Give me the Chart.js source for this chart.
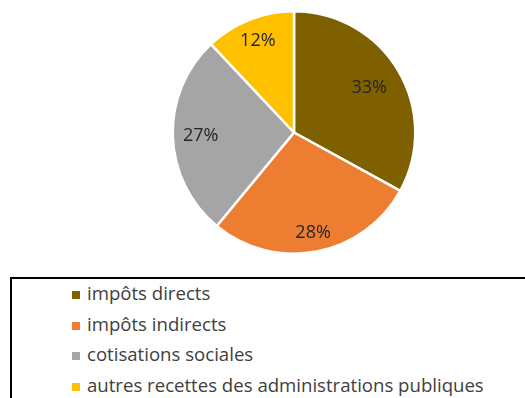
<!DOCTYPE html>
<html>
<head>
<meta charset="utf-8">
<script src="https://cdn.jsdelivr.net/npm/chart.js@4"></script>
<style>
    html, body {
        margin: 0;
        padding: 0;
        background: #ffffff;
    }
    #wrap {
        position: relative;
        width: 525px;
        height: 398px;
        overflow: hidden;
    }
    #chartBox {
        position: absolute;
        left: 0;
        top: 0;
        width: 525px;
        height: 265px;
    }
    #legendBox {
        position: absolute;
        left: 10px;
        top: 277px;
        width: 530px;
        height: 140px;
        border: 2px solid #000000;
        box-sizing: border-box;
    }
    #legendBox ul {
        list-style: none;
        margin: 0;
        padding: 0;
    }
    #legendBox li {
        position: absolute;
        left: 60px;
        height: 24px;
        line-height: 24px;
        font-family: 'Open Sans', sans-serif;
        font-size: 18.6px;
        color: #404040;
        white-space: nowrap;
    }
    #legendBox li span {
        position: absolute;
        left: 0;
        top: 8px;
        width: 8px;
        height: 8px;
    }
    #legendBox li em {
        font-style: normal;
        position: absolute;
        left: 15px;
        top: -2px;
    }
</style>
</head>
<body>
<div id="wrap">
    <div id="chartBox"><canvas id="pieChart"></canvas></div>
    <div id="legendBox"><ul id="legendList"></ul></div>
</div>
<script>
const categories = ['impôts directs', 'impôts indirects', 'cotisations sociales', 'autres recettes des administrations publiques']
const shares = [33, 28, 27, 12]
const sliceColors = ['#7F6000', '#ED7D31', '#A5A5A5', '#FFC000']

// Excel puts each label at its own distance from the centre
const labelRadius = [0.72, 0.84, 0.77, 0.81]

const pieLabels = {
    id: 'pieLabels',
    afterDatasetsDraw(chart) {
        const ctx = chart.ctx
        const meta = chart.getDatasetMeta(0)
        ctx.save()
        ctx.font = "18px 'Open Sans', sans-serif"
        ctx.fillStyle = '#262626'
        ctx.textAlign = 'center'
        ctx.textBaseline = 'middle'
        meta.data.forEach((arc, i) => {
            const p = arc.getProps(['x', 'y', 'startAngle', 'endAngle', 'outerRadius'], true)
            const mid = (p.startAngle + p.endAngle) / 2
            const r = p.outerRadius * labelRadius[i]
            ctx.fillText(shares[i] + '%', p.x + Math.cos(mid) * r, p.y + Math.sin(mid) * r)
        })
        ctx.restore()
    }
}

const pieCanvas = document.getElementById('pieChart')

const pieChart = new Chart(pieCanvas, {
    type: 'pie',
    data: {
        labels: categories,
        datasets: [{
            data: shares,
            backgroundColor: sliceColors,
            borderColor: '#ffffff',
            borderWidth: 2.5
        }]
    },
    options: {
        responsive: true,
        maintainAspectRatio: false,
        animation: false,
        layout: {
            padding: {left: 100, right: 37, top: 10, bottom: 10}
        },
        plugins: {
            legend: {display: false},
            tooltip: {enabled: false}
        }
    },
    plugins: [pieLabels]
})

// legend rows built from the chart's own legend items
const legendList = document.getElementById('legendList')
pieChart.options.plugins.legend.labels.generateLabels(pieChart).forEach((item, i) => {
    const li = document.createElement('li')
    li.style.top = (4 + i * 30.5) + 'px'
    const box = document.createElement('span')
    box.style.background = item.fillStyle
    const txt = document.createElement('em')
    txt.textContent = item.text
    li.appendChild(box)
    li.appendChild(txt)
    legendList.appendChild(li)
})
</script>
</body>
</html>
